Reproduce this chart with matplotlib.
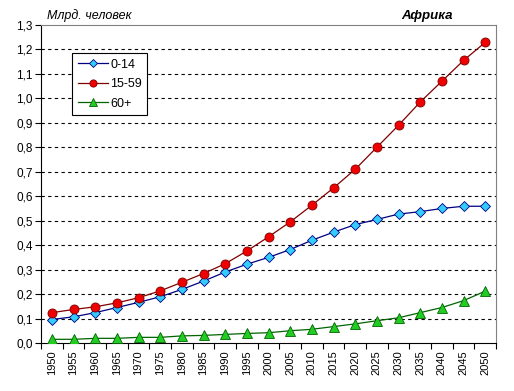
import numpy as np
import matplotlib.pyplot as plt
from matplotlib.ticker import FuncFormatter, MultipleLocator

# Данные (млрд. человек), Африка
years = [1950, 1955, 1960, 1965, 1970, 1975, 1980, 1985, 1990, 1995, 2000,
         2005, 2010, 2015, 2020, 2025, 2030, 2035, 2040, 2045, 2050]
age_0_14 = [0.096, 0.107, 0.124, 0.145, 0.166, 0.189, 0.219, 0.253, 0.290, 0.322, 0.350,
            0.382, 0.420, 0.453, 0.484, 0.505, 0.527, 0.537, 0.550, 0.559, 0.559]
age_15_59 = [0.124, 0.137, 0.148, 0.164, 0.185, 0.213, 0.248, 0.284, 0.324, 0.376, 0.434,
             0.495, 0.563, 0.634, 0.710, 0.800, 0.890, 0.985, 1.070, 1.155, 1.229]
age_60 = [0.015, 0.015, 0.019, 0.019, 0.023, 0.023, 0.029, 0.031, 0.035, 0.039, 0.042,
          0.050, 0.056, 0.067, 0.078, 0.091, 0.103, 0.124, 0.145, 0.173, 0.212]

plt.rcParams['font.family'] = ['Liberation Sans', 'DejaVu Sans']

fig = plt.figure(figsize=(5.14, 3.91), dpi=100)
ax = fig.add_axes([0.0798, 0.1228, 0.8852, 0.8132])

x = np.arange(len(years))
ax.plot(x, age_0_14, color='#000080', lw=0.9, marker='D', ms=5.5,
        mfc='#33CCFF', mec='#000080', mew=0.6, label='0-14', zorder=3)
ax.plot(x, age_15_59, color='#800000', lw=0.9, marker='o', ms=6.5,
        mfc='#EE0000', mec='#800000', mew=0.6, label='15-59', zorder=3)
ax.plot(x, age_60, color='#006400', lw=0.9, marker='^', ms=7,
        mfc='#22CC22', mec='#006400', mew=0.6, label='60+', zorder=3)

ax.set_xlim(-0.5, len(years) - 0.5)
ax.set_ylim(0, 1.3)
ax.yaxis.set_major_locator(MultipleLocator(0.1))
ax.yaxis.set_major_formatter(FuncFormatter(lambda v, p: f'{v:.1f}'.replace('.', ',')))
ax.set_xticks(x)
ax.set_xticklabels([str(y) for y in years], rotation=90)
ax.set_xticks(np.arange(-0.5, len(years)), minor=True)
ax.tick_params(axis='x', which='major', length=0, pad=5, labelsize=8)
ax.tick_params(axis='x', which='minor', length=4, width=0.8, direction='out')
ax.tick_params(axis='y', length=4, width=0.8, direction='out', labelsize=8.5, pad=2)

for v in np.arange(0.1, 1.25, 0.1):
    ax.axhline(v, color='black', lw=0.8, ls=(0, (3, 3)), zorder=1)

ax.spines['left'].set_color('black')
ax.spines['bottom'].set_color('black')
ax.spines['right'].set_color('#808080')
ax.spines['top'].set_color('#808080')

leg = ax.legend(loc='upper left', bbox_to_anchor=(0.068, 0.912), borderaxespad=0,
                fontsize=9, frameon=True, fancybox=False, edgecolor='black',
                framealpha=1, handlelength=2.4, borderpad=0.45, labelspacing=0.6,
                handletextpad=0.2, markerscale=0.8)
leg.get_frame().set_linewidth(0.8)

fig.text(0.092, 0.96, 'Млрд. человек', style='italic', fontsize=9, ha='left', va='center')
fig.text(0.83, 0.96, 'Африка', style='italic', weight='bold', fontsize=9.5, ha='center', va='center')

fig.savefig('out.png', dpi=100)
